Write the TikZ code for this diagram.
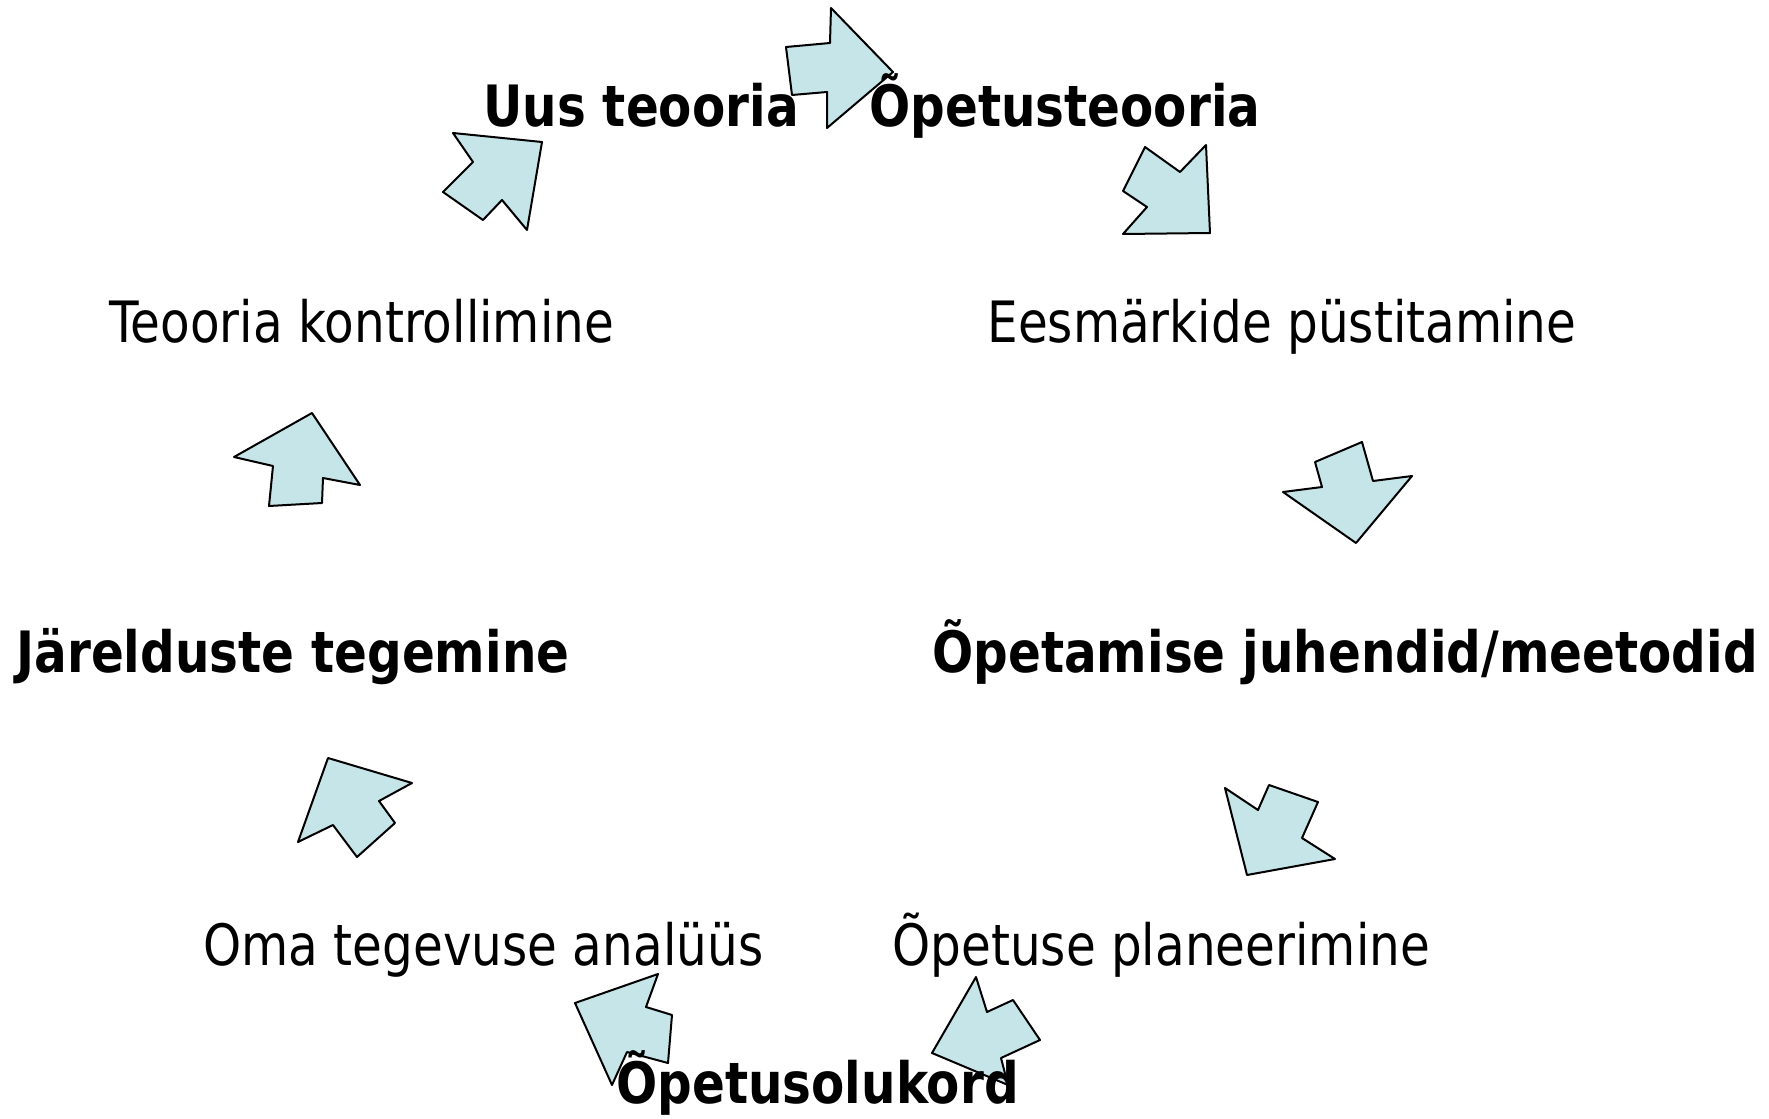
\documentclass[tikz,border=0pt]{standalone}
\usepackage{fontspec}
\setmainfont{DejaVu Sans}[FakeStretch=0.85]
\usepackage{tikz}
\definecolor{arrowfill}{RGB}{198,229,232}

\begin{document}
\begin{tikzpicture}[x=0.5pt,y=-0.5pt,
  blockarrow/.style={draw,fill=arrowfill,line width=1pt,line join=round},
  step text/.style={anchor=base west,inner sep=0pt,font=\fontsize{28.5}{34}\selectfont},
  bold text/.style={step text,font=\fontsize{28.5}{34}\selectfont\bfseries}]
  \useasboundingbox (0,0) rectangle (1769,1119);

  % kaarekujulised nooled
  \draw[blockarrow] (893,72) -- (827,128) -- (827,92) -- (792,95) -- (786,47) -- (830,43) -- (831,8) -- cycle;
  \draw[blockarrow] (1210,233) -- (1123,234) -- (1147,207) -- (1123,191) -- (1145,147) -- (1180,172) -- (1206,145) -- cycle;
  \draw[blockarrow] (1356,543) -- (1283,492) -- (1322,487) -- (1315,462) -- (1362,442) -- (1373,481) -- (1412,476) -- cycle;
  \draw[blockarrow] (1247,875) -- (1225,788) -- (1258,810) -- (1269,785) -- (1318,802) -- (1302,838) -- (1335,859) -- cycle;
  \draw[blockarrow] (932,1053) -- (976,977) -- (987,1012) -- (1013,1000) -- (1040,1040) -- (1001,1058) -- (1008,1085) -- cycle;
  \draw[blockarrow] (575,1003) -- (658,974) -- (646,1007) -- (672,1015) -- (668,1063) -- (627,1052) -- (612,1085) -- cycle;
  \draw[blockarrow] (328,758) -- (412,783) -- (379,801) -- (395,823) -- (357,857) -- (333,825) -- (298,842) -- cycle;
  \draw[blockarrow] (312,413) -- (360,485) -- (323,478) -- (322,503) -- (269,506) -- (273,466) -- (234,457) -- cycle;
  \draw[blockarrow] (542,142) -- (527,230) -- (502,200) -- (483,220) -- (443,192) -- (473,162) -- (453,133) -- cycle;

  % tsukli sammud
  \node[bold text] (opetusteooria) at (869,126) {Õpetusteooria};
  \node[step text] (eesmargid) at (987,342) {Eesmärkide püstitamine};
  \node[bold text] (juhendid) at (932,672) {Õpetamise juhendid/meetodid};
  \node[step text] (planeerimine) at (892,965) {Õpetuse planeerimine};
  \node[bold text] (olukord) at (616,1103) {Õpetusolukord};
  \node[step text] (analyys) at (203,965) {Oma tegevuse analüüs};
  \node[bold text] (jareldused) at (16,672) {Järelduste tegemine};
  \node[step text] (kontroll) at (109,342) {Teooria kontrollimine};
  \node[bold text] (uus) at (483,126) {Uus teooria};
\end{tikzpicture}
\end{document}
